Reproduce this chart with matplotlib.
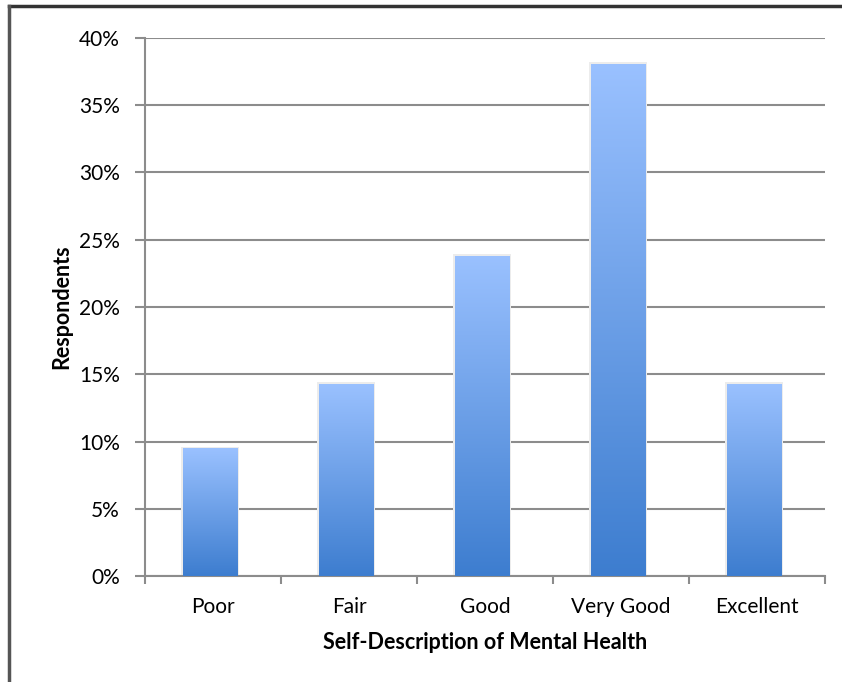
import numpy as np
import matplotlib

matplotlib.use("Agg")
import matplotlib.pyplot as plt
from matplotlib.colors import LinearSegmentedColormap
from matplotlib.ticker import FuncFormatter, MultipleLocator
from matplotlib.lines import Line2D

categories = ["Poor", "Fair", "Good", "Very Good", "Excellent"]
respondents_pct = [9.5, 14.3, 23.8, 38.1, 14.3]

plt.rcParams["font.family"] = ["Lato", "DejaVu Sans"]

fig = plt.figure(figsize=(8.42, 6.82), dpi=100)
ax = fig.add_axes([145 / 842, 1 - 576 / 682, 680 / 842, 538 / 682])

x = np.arange(len(categories))
bars = ax.bar(x - 0.02, respondents_pct, width=0.4, color="none", zorder=3)

# vertical gradient fill, light at top and darker at the base
grad = LinearSegmentedColormap.from_list("blue_grad", ["#3d7dcf", "#9ac1ff"])
ramp = np.linspace(0, 1, 256).reshape(-1, 1)
for b in bars:
    x0, w, h = b.get_x(), b.get_width(), b.get_height()
    # faint halo around each bar
    ax.bar(x0 + w / 2, h + 0.12, width=w + 0.025, color="#ececec", zorder=2.5,
           linewidth=0)
    im = ax.imshow(ramp, cmap=grad, origin="lower", aspect="auto",
                   extent=(x0, x0 + w, 0, h), zorder=3)
    im.set_clip_path(b)

ax.set_xlim(-0.5, len(categories) - 0.5)
ax.set_ylim(0, 40)
ax.yaxis.set_major_locator(MultipleLocator(5))
ax.yaxis.set_major_formatter(FuncFormatter(lambda v, _: f"{v:.0f}%"))
ax.set_xticks(x)
ax.set_xticklabels(categories)
ax.set_xticks(np.arange(-0.5, len(categories)), minor=True)

ax.grid(axis="y", color="#8c8c8c", linewidth=1.5, zorder=1)
for s in ["top", "right"]:
    ax.spines[s].set_visible(False)
for s in ["left", "bottom"]:
    ax.spines[s].set_color("#8c8c8c")
    ax.spines[s].set_linewidth(1.5)

ax.tick_params(axis="y", length=7, width=1.5, color="#8c8c8c", labelsize=15, pad=11)
ax.tick_params(axis="x", which="major", length=0, labelsize=15, pad=15)
ax.tick_params(axis="x", which="minor", length=6, width=1.5, color="#8c8c8c")

ax.set_xlabel("Self-Description of Mental Health", fontsize=15.5, fontweight="bold",
              labelpad=11)
ax.set_ylabel("Respondents", fontsize=15.5, fontweight="bold", labelpad=5)

# dark frame along the top and left edges
fig.add_artist(Line2D([9 / 842, 1], [1 - 6 / 682] * 2, transform=fig.transFigure,
                      color="#333333", linewidth=2.5))
fig.add_artist(Line2D([9 / 842] * 2, [0, 1 - 6 / 682], transform=fig.transFigure,
                      color="#555555", linewidth=2.5))

fig.savefig("out.png", dpi=100)
